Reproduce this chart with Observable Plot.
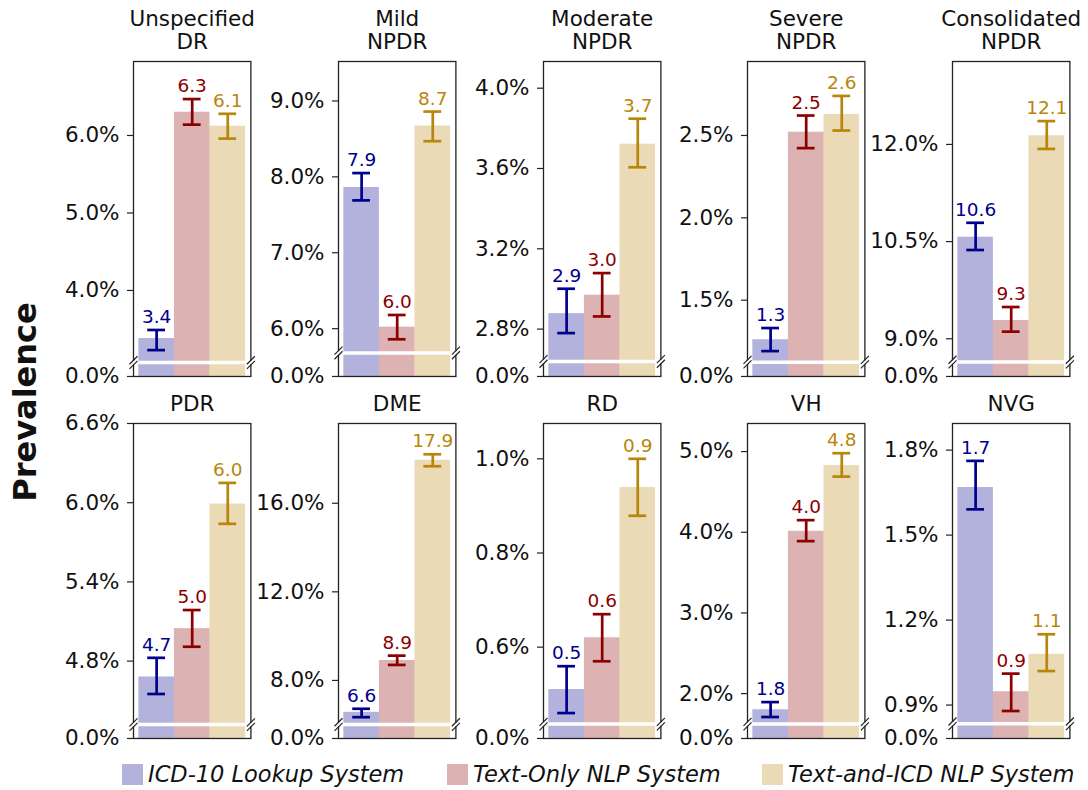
<!DOCTYPE html>
<html><head><meta charset="utf-8">
<script src="https://cdn.jsdelivr.net/npm/d3@7"></script>
<script src="https://cdn.jsdelivr.net/npm/@observablehq/plot@0.6"></script>
<style>
body{margin:0;background:#fff;}
#fig{position:relative;width:1088px;height:790px;font-family:"DejaVu Sans",sans-serif;overflow:hidden;background:#fff;}
.panel{position:absolute;}
#ylabel{position:absolute;left:25px;top:402px;transform:translate(-50%,-50%) rotate(-90deg);font-weight:bold;font-size:32px;white-space:nowrap;color:#111;}
.leg{position:absolute;top:761px;display:flex;align-items:center;font-style:italic;font-size:22.5px;color:#111;white-space:nowrap;}
.leg span.sw{display:inline-block;width:21px;height:21px;margin-right:5px;}
</style></head><body><div id="fig"><div id="ylabel">Prevalence</div></div>
<script>
// ---- data (percent) ----
const categories = ["Unspecified\nDR","Mild\nNPDR","Moderate\nNPDR","Severe\nNPDR","Consolidated\nNPDR","PDR","DME","RD","VH","NVG"];
const systems = ["ICD-10 Lookup System","Text-Only NLP System","Text-and-ICD NLP System"];

const icdValues  = [3.38, 7.86, 2.877, 1.26, 10.568, 4.68, 6.56, 0.51, 1.80, 1.668];
const icdLow     = [3.23, 7.69, 2.78, 1.191, 10.37, 4.551, 6.34, 0.46, 1.71, 1.591];
const icdHigh    = [3.49, 8.05, 3.001, 1.331, 10.79, 4.825, 6.72, 0.5595, 1.895, 1.762];

const textValues = [6.30, 6.02, 2.969, 2.52, 9.283, 5.046, 8.90, 0.62, 4.012, 0.947];
const textLow    = [6.14, 5.86, 2.863, 2.423, 9.11, 4.909, 8.70, 0.570, 3.89, 0.879];
const textHigh   = [6.47, 6.18, 3.079, 2.621, 9.49, 5.187, 9.12, 0.670, 4.15, 1.011];

const bothValues = [6.12, 8.67, 3.721, 2.628, 12.134, 5.99, 17.94, 0.939, 4.826, 1.079];
const bothLow    = [5.96, 8.47, 3.606, 2.53, 11.93, 5.84, 17.67, 0.879, 4.69, 1.020];
const bothHigh   = [6.28, 8.86, 3.848, 2.74, 12.36, 6.15, 18.21, 1.0, 4.98, 1.150];

// y-axis layout per panel (broken axis: bottom tick is labelled 0.0%)
const yMin   = [2.89, 5.37, 2.564, 1.037, 8.418, 4.214, 5.379, 0.406, 1.444, 0.782];
const yMax   = [6.955, 9.52, 4.133, 2.949, 13.28, 6.6, 19.6, 1.075, 5.348, 1.894];
const yBreak = [3.07, 5.68, 2.639, 1.124, 8.64, 4.319, 6.01, 0.4365, 1.622, 0.834];
const yTicks = [
  [4, 5, 6], [6, 7, 8, 9], [2.8, 3.2, 3.6, 4.0], [1.5, 2.0, 2.5], [9, 10.5, 12],
  [4.8, 5.4, 6.0, 6.6], [8, 12, 16], [0.6, 0.8, 1.0], [2, 3, 4, 5], [0.9, 1.2, 1.5, 1.8]
];

const barColors = ["darkblue", "darkred", "darkgoldenrod"];
const barOpacity = 0.3;

// ---- layout ----
const FW = 117.4, FH = 315;
const ML = 100, MR = 8, MB = 8;
const fig = document.getElementById("fig");

const breakSymbol = {
  draw(context) {
    const s = 4, g = 2.3;
    context.moveTo(-s, g + s); context.lineTo(s, g - s);
    context.moveTo(-s, -g + s); context.lineTo(s, -g - s);
  }
};

const xLo = -0.65, xHi = 2.65;

categories.forEach((cat, p) => {
  const row = Math.floor(p / 5), col = p % 5;
  const frameLeft = 133.3 + 204.6 * col;
  const frameTop = row ? 423 : 61;
  const svgTop = row ? 384 : 0;
  const MT = frameTop - svgTop;
  const lo = yMin[p];
  const bars = [
    {i: 0, v: icdValues[p], l: icdLow[p], h: icdHigh[p]},
    {i: 1, v: textValues[p], l: textLow[p], h: textHigh[p]},
    {i: 2, v: bothValues[p], l: bothLow[p], h: bothHigh[p]}
  ];
  const plot = Plot.plot({
    width: ML + FW + MR,
    height: MT + FH + MB,
    marginLeft: ML, marginRight: MR, marginTop: MT, marginBottom: MB,
    style: {fontFamily: "DejaVu Sans, sans-serif", fontSize: "21.5px", background: "transparent", overflow: "visible", color: "#111"},
    x: {type: "linear", domain: [xLo, xHi], axis: null},
    y: {type: "linear", domain: [lo, yMax[p]]},
    marks: [
      Plot.rectY(bars, {x1: d => d.i - 0.5, x2: d => d.i + 0.5, y1: lo, y2: "v",
        fill: d => barColors[d.i], fillOpacity: barOpacity}),
      Plot.ruleX(bars, {x: "i", y1: "l", y2: "h", stroke: d => barColors[d.i], strokeWidth: 2.7}),
      Plot.ruleY(bars, {y: "l", x1: d => d.i - 0.25, x2: d => d.i + 0.25, stroke: d => barColors[d.i], strokeWidth: 2.7}),
      Plot.ruleY(bars, {y: "h", x1: d => d.i - 0.25, x2: d => d.i + 0.25, stroke: d => barColors[d.i], strokeWidth: 2.7}),
      Plot.text(bars, {x: "i", y: "h", text: d => d.v.toFixed(1), fill: d => barColors[d.i],
        fontSize: 18.5, lineAnchor: "bottom", dy: -7}),
      Plot.frame({stroke: "#222", strokeWidth: 1.3}),
      Plot.ruleY([yBreak[p]], {x1: xLo - 0.1, x2: xHi + 0.1, stroke: "white", strokeWidth: 3.5, clip: false}),
      Plot.dot([xLo, xHi], {x: d => d, y: yBreak[p], symbol: breakSymbol, fill: "none", stroke: "#222", strokeWidth: 1.2}),
      Plot.axisY({ticks: [lo, ...yTicks[p]], tickFormat: d => d === lo ? "0.0%" : d.toFixed(1) + "%",
        tickSize: 6, tickPadding: 8, fontSize: 21.5, stroke: "#222", strokeWidth: 1.2, fill: "#111"}),
      Plot.text([cat], {text: d => d, frameAnchor: "top", lineAnchor: "bottom", dy: -12,
        fontSize: 21.5, lineHeight: 1.1, fill: "#111"})
    ]
  });
  plot.classList.add("panel");
  plot.style.left = (frameLeft - ML) + "px";
  plot.style.top = svgTop + "px";
  plot.style.maxWidth = "none";
  fig.appendChild(plot);
});

// legend
const legendLeft = [122, 447, 762];
systems.forEach((s, k) => {
  const div = document.createElement("div");
  div.className = "leg";
  div.style.left = legendLeft[k] + "px";
  const sw = document.createElement("span");
  sw.className = "sw";
  sw.style.background = barColors[k];
  sw.style.opacity = barOpacity;
  div.appendChild(sw);
  div.appendChild(document.createTextNode(s));
  fig.appendChild(div);
});
</script>
</body></html>
